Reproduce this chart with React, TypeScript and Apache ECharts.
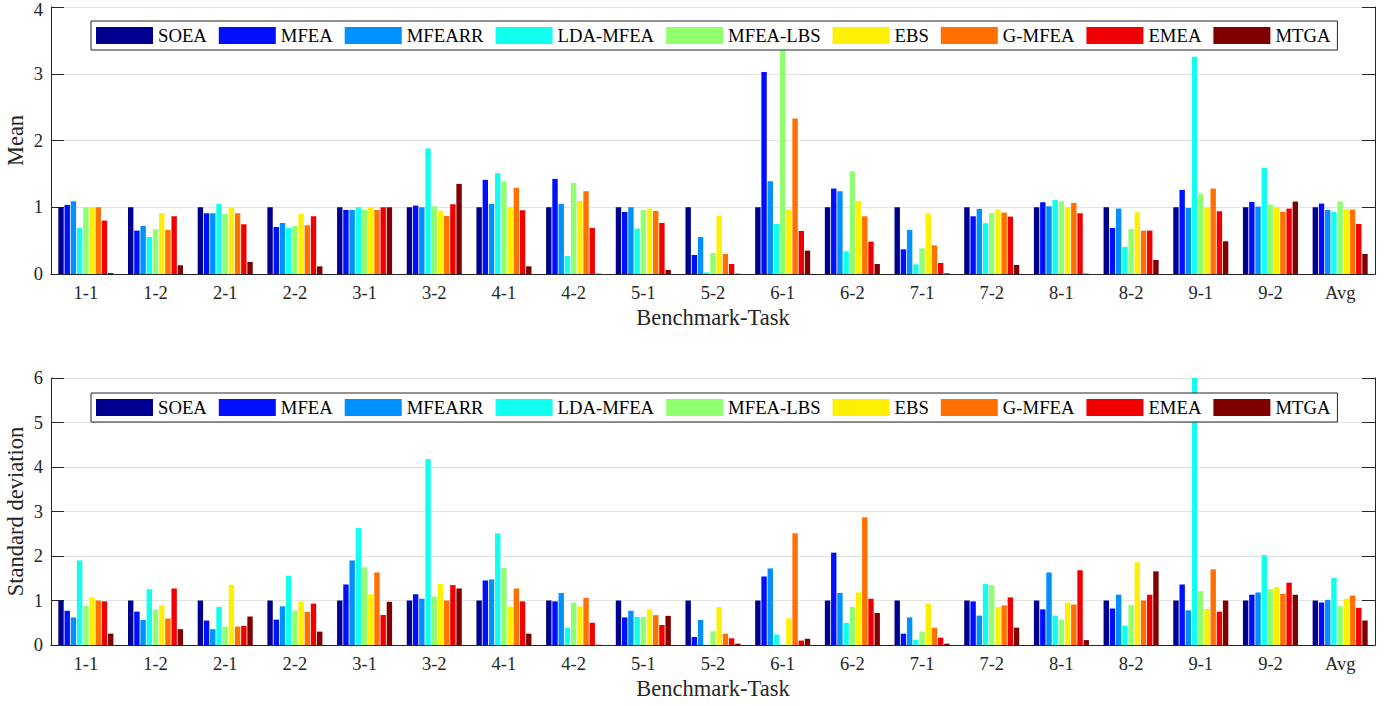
import React, { useEffect, useRef } from "react";
import * as echarts from "echarts";

const categories = ["1-1","1-2","2-1","2-2","3-1","3-2","4-1","4-2","5-1","5-2","6-1","6-2","7-1","7-2","8-1","8-2","9-1","9-2","Avg"];
const algorithms = ["SOEA","MFEA","MFEARR","LDA-MFEA","MFEA-LBS","EBS","G-MFEA","EMEA","MTGA"];
const colors = ["#000090","#0010FF","#0090FF","#10FFEF","#90FF70","#FFEF00","#FF7000","#F00000","#800000"];

const meanTicks = [0, 1, 2, 3, 4];
const stdTicks = [0, 1, 2, 3, 4, 5, 6];

// Mean values
const meanSOEA = [1,1,1,1,1,1,1,1,1,1,1,1,1,1,1,1,1,1,1];
const meanMFEA = [1.035,0.65,0.91,0.705,0.96,1.025,1.41,1.425,0.93,0.285,3.025,1.28,0.37,0.865,1.075,0.69,1.26,1.08,1.055];
const meanMFEARR = [1.09,0.72,0.91,0.765,0.96,1.0,1.05,1.05,1.0,0.555,1.39,1.24,0.66,0.975,1.015,0.98,0.99,1.01,0.96];
const meanLDA = [0.69,0.555,1.05,0.69,1.0,1.88,1.51,0.27,0.68,0.025,0.75,0.34,0.145,0.76,1.11,0.405,3.255,1.59,0.93];
const meanLBS = [1.0,0.67,0.9,0.72,0.96,1.015,1.385,1.365,0.96,0.315,3.5,1.54,0.385,0.915,1.09,0.675,1.2,1.04,1.085];
const meanEBS = [1.0,0.91,1.0,0.9,1.0,0.95,1.0,1.095,0.98,0.875,0.96,1.095,0.91,0.965,1.0,0.925,1.0,1.0,0.975];
const meanGMFEA = [1.0,0.66,0.91,0.73,0.96,0.87,1.29,1.24,0.945,0.3,2.33,0.865,0.43,0.92,1.065,0.65,1.28,0.93,0.965];
const meanEMEA = [0.8,0.865,0.745,0.865,1.0,1.045,0.955,0.69,0.765,0.15,0.645,0.485,0.165,0.86,0.91,0.65,0.94,0.98,0.75];
const meanMTGA = [0.015,0.13,0.18,0.115,1.0,1.35,0.115,0.005,0.06,0.005,0.35,0.15,0.01,0.135,0.005,0.21,0.49,1.085,0.3];

// Standard deviation values
const stdSOEA = [1,1,1,1,1,1,1,1,1,1,1,1,1,1,1,1,1,1,1];
const stdMFEA = [0.77,0.75,0.55,0.57,1.36,1.14,1.45,0.98,0.62,0.18,1.54,2.075,0.255,0.98,0.8,0.82,1.36,1.13,0.955];
const stdMFEARR = [0.62,0.565,0.355,0.87,1.9,1.04,1.475,1.17,0.77,0.565,1.72,1.17,0.62,0.66,1.63,1.13,0.78,1.18,1.015];
const stdLDA = [1.9,1.255,0.86,1.555,2.63,4.18,2.51,0.39,0.63,0.005,0.235,0.5,0.12,1.37,0.66,0.435,6.6,2.02,1.51];
const stdLBS = [0.88,0.8,0.415,0.775,1.745,1.09,1.73,0.955,0.63,0.31,0.005,0.855,0.3,1.345,0.565,0.9,1.21,1.255,0.87];
const stdEBS = [1.07,0.89,1.355,0.98,1.14,1.37,0.865,0.865,0.8,0.855,0.6,1.18,0.93,0.85,0.955,1.86,0.81,1.3,1.04];
const stdGMFEA = [1.0,0.595,0.415,0.745,1.63,1.0,1.27,1.06,0.67,0.255,2.51,2.87,0.39,0.89,0.91,1.0,1.7,1.15,1.11];
const stdEMEA = [0.98,1.27,0.43,0.93,0.675,1.345,0.98,0.5,0.45,0.15,0.1,1.04,0.165,1.07,1.68,1.13,0.75,1.4,0.835];
const stdMTGA = [0.255,0.355,0.64,0.3,0.97,1.27,0.255,0.005,0.655,0.03,0.14,0.72,0.03,0.39,0.11,1.655,1.0,1.13,0.55];

const meanData = [meanSOEA, meanMFEA, meanMFEARR, meanLDA, meanLBS, meanEBS, meanGMFEA, meanEMEA, meanMTGA];
const stdData = [stdSOEA, stdMFEA, stdMFEARR, stdLDA, stdLBS, stdEBS, stdGMFEA, stdEMEA, stdMTGA];

const FONT = "Liberation Serif";
const AX = "#262626";

function buildOption() {
  const grids = [
    { left: 51, top: 7, width: 1324, height: 267, outerBoundsMode: "none", containLabel: false },
    { left: 51, top: 378, width: 1324, height: 267, outerBoundsMode: "none", containLabel: false },
  ];
  const xAxes: any[] = [];
  const yAxes: any[] = [];
  const series: any[] = [];
  const legends: any[] = [];
  const sets = [
    { data: meanData, ticks: meanTicks, name: "Mean", legendTop: 21, legendId: "l0" },
    { data: stdData, ticks: stdTicks, name: "Standard deviation", legendTop: 393, legendId: "l1" },
  ];
  sets.forEach((s, gi) => {
    xAxes.push({
      type: "category",
      gridIndex: gi,
      data: categories,
      position: "bottom",
      z: 3,
      axisLine: { lineStyle: { color: AX, width: 1 } },
      axisTick: { inside: true, length: 13, alignWithLabel: true, lineStyle: { color: AX, width: 1 } },
      axisLabel: { color: AX, fontFamily: FONT, fontSize: 18.5, margin: 9 },
      name: "Benchmark-Task",
      nameLocation: "middle",
      nameGap: 32,
      nameMoveOverlap: false,
      nameTextStyle: { color: AX, fontFamily: FONT, fontSize: 22.5 },
      splitLine: { show: false },
    });
    xAxes.push({
      type: "category",
      gridIndex: gi,
      data: categories,
      position: "top",
      z: 3,
      axisLine: { lineStyle: { color: AX, width: 1 } },
      axisTick: { inside: true, length: 13, alignWithLabel: true, lineStyle: { color: AX, width: 1 } },
      axisLabel: { show: false },
      splitLine: { show: false },
    });
    const max = s.ticks[s.ticks.length - 1];
    yAxes.push({
      type: "value",
      gridIndex: gi,
      position: "left",
      min: 0,
      max,
      interval: 1,
      axisLine: { show: true, lineStyle: { color: AX, width: 1 } },
      axisTick: { show: true, inside: true, length: 13, lineStyle: { color: AX, width: 1 } },
      axisLabel: {
        color: AX,
        fontFamily: FONT,
        fontSize: 18.5,
        margin: 8,
        formatter: (v: number) => (gi === 0 && v === max ? `{t|${v}}` : `${v}`),
        rich: { t: { color: AX, fontFamily: FONT, fontSize: 18.5, padding: [5, 0, 0, 0] } },
      },
      splitLine: { show: true, lineStyle: { color: "#e3e3e3", width: 1 } },
      name: s.name,
      nameLocation: "middle",
      nameGap: 24,
      nameMoveOverlap: false,
      nameTextStyle: { color: AX, fontFamily: FONT, fontSize: 22.5 },
    });
    yAxes.push({
      type: "value",
      gridIndex: gi,
      position: "right",
      min: 0,
      max,
      interval: 1,
      axisLine: { show: true, lineStyle: { color: AX, width: 1 } },
      axisTick: { show: true, inside: true, length: 13, lineStyle: { color: AX, width: 1 } },
      axisLabel: { show: false },
      splitLine: { show: false },
    });
    algorithms.forEach((alg, i) => {
      series.push({
        type: "bar",
        name: alg,
        xAxisIndex: gi * 2,
        yAxisIndex: gi * 2,
        data: s.data[i],
        barCategoryGap: "21%",
        barGap: "15%",
        clip: true,
        itemStyle: { color: colors[i] },
        emphasis: { disabled: true },
      });
    });
    legends.push({
      id: s.legendId,
      data: algorithms,
      orient: "horizontal",
      left: 91,
      top: s.legendTop,
      itemWidth: 57,
      itemHeight: 17,
      itemGap: 12,
      icon: "rect",
      padding: [5, 7, 5, 5],
      borderColor: AX,
      borderWidth: 1,
      backgroundColor: "#ffffff",
      selectedMode: false,
      textStyle: { color: "#000", fontFamily: FONT, fontSize: 18.7 },
    });
  });
  return {
    animation: false,
    backgroundColor: "#ffffff",
    color: colors,
    grid: grids,
    xAxis: xAxes,
    yAxis: yAxes,
    legend: legends,
    series,
  };
}

export default function App() {
  const ref = useRef<HTMLDivElement>(null);
  useEffect(() => {
    if (!ref.current) return;
    const chart = echarts.init(ref.current, undefined, { renderer: "svg" });
    chart.setOption(buildOption() as any);
    return () => chart.dispose();
  }, []);
  return (
    <div
      ref={ref}
      style={{ position: "fixed", left: 0, top: 0, width: 1396, height: 706, background: "#fff" }}
    />
  );
}
